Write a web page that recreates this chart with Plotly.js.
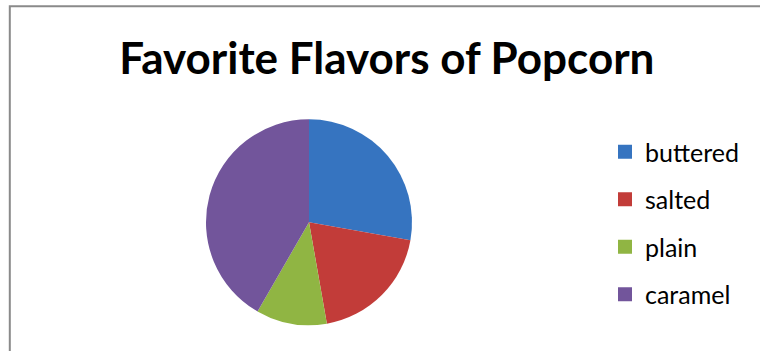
<!DOCTYPE html>
<html>
<head>
<meta charset="utf-8">
<script src="https://cdn.plot.ly/plotly-3.0.1.min.js"></script>
<style>
  html, body { margin: 0; padding: 0; background: #ffffff; }
  #chart { width: 760px; height: 351px; }
</style>
</head>
<body>
<div id="chart"></div>
<script>
const chartTitle = "Favorite Flavors of Popcorn";
const flavors = ["buttered", "salted", "plain", "caramel"];
const votes = [10, 7, 4, 15];
const sliceColors = ["#3674c0", "#c23c39", "#90b543", "#72559b"];

const W = 760, H = 351;
const px = v => v / W;
const py = v => 1 - v / H;

const pieTrace = {
  type: "pie",
  labels: flavors,
  values: votes,
  sort: false,
  direction: "clockwise",
  rotation: 0,
  textinfo: "none",
  hoverinfo: "label+value+percent",
  marker: { colors: sliceColors, line: { width: 0 } },
  showlegend: false,
  domain: { x: [px(206), px(412)], y: [py(325.5), py(119)] }
};

// legend proxies (one per flavor) so entries can be spaced like the original
const legendTraces = flavors.map((f, i) => ({
  type: "scatter",
  mode: "markers",
  x: [null], y: [null],
  name: f,
  legendgroup: f,
  marker: { symbol: "square", size: 14, color: sliceColors[i] },
  hoverinfo: "skip"
}));

const layout = {
  width: W, height: H,
  margin: { l: 0, r: 0, t: 0, b: 0 },
  paper_bgcolor: "#ffffff",
  plot_bgcolor: "rgba(0,0,0,0)",
  title: {
    text: "<b>" + chartTitle + "</b>",
    font: { family: "Lato, Open Sans, sans-serif", size: 44, color: "#000000" },
    x: 0.509, xanchor: "center",
    y: py(59), yanchor: "middle", yref: "paper"
  },
  xaxis: { visible: false, domain: [0.95, 1] },
  yaxis: { visible: false, domain: [0.95, 1] },
  showlegend: true,
  legend: {
    x: px(605), xanchor: "left",
    y: py(129), yanchor: "top",
    traceorder: "grouped",
    tracegroupgap: 12,
    font: { family: "Lato, Open Sans, sans-serif", size: 25, color: "#000000" },
    itemwidth: 30,
    bgcolor: "rgba(0,0,0,0)"
  },
  shapes: [{
    type: "rect", xref: "paper", yref: "paper",
    x0: px(9.8), x1: 1.05, y0: -0.05, y1: py(6.3),
    line: { color: "#8a8a8a", width: 2 }
  }]
};

Plotly.newPlot("chart", [pieTrace].concat(legendTraces), layout, { displayModeBar: false, staticPlot: true });
</script>
</body>
</html>
